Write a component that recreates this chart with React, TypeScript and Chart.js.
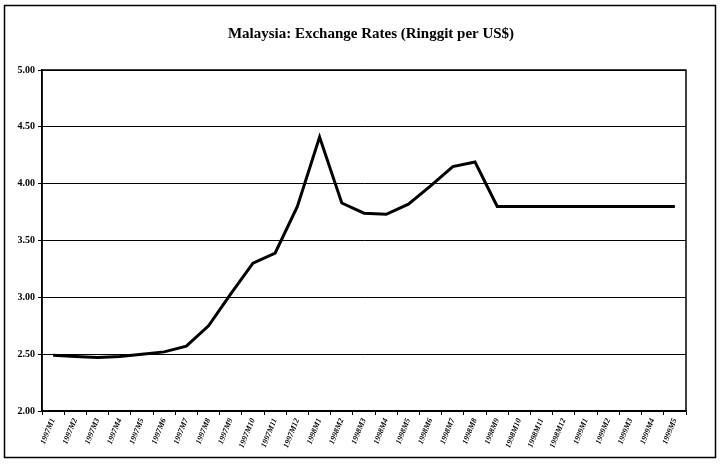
import React, { useEffect, useRef } from "react";
import { Chart, registerables } from "chart.js";

Chart.register(...registerables);

const TITLE = "Malaysia: Exchange Rates (Ringgit per US$)";

const months: string[] = [
  "1997M1", "1997M2", "1997M3", "1997M4", "1997M5", "1997M6", "1997M7", "1997M8", "1997M9", "1997M10", "1997M11", "1997M12",
  "1998M1", "1998M2", "1998M3", "1998M4", "1998M5", "1998M6", "1998M7", "1998M8", "1998M9", "1998M10", "1998M11", "1998M12",
  "1999M1", "1999M2", "1999M3", "1999M4", "1999M5",
];

const ringgitPerUSD: number[] = [
  2.49, 2.48, 2.47, 2.48, 2.50, 2.52, 2.57, 2.75, 3.03, 3.30, 3.39, 3.80,
  4.41, 3.83, 3.74, 3.73, 3.82, 3.98, 4.15, 4.19, 3.80, 3.80, 3.80, 3.80,
  3.80, 3.80, 3.80, 3.80, 3.80,
];

const Y_MIN = 2.0;
const Y_MAX = 5.0;
const Y_STEP = 0.5;

const framePlugin = {
  id: "frame",
  afterDraw(chart: any) {
    const { ctx, chartArea } = chart;
    ctx.save();
    ctx.strokeStyle = "#000";
    ctx.lineWidth = 1.5;
    ctx.strokeRect(4.5, 5.5, 711, 452);
    ctx.strokeRect(chartArea.left, chartArea.top, chartArea.right - chartArea.left, chartArea.bottom - chartArea.top);
    ctx.fillStyle = "#000";
    ctx.font = "bold 15px 'Liberation Serif', 'DejaVu Serif', serif";
    ctx.textAlign = "center";
    ctx.textBaseline = "middle";
    ctx.fillText(TITLE, 371, 34);
    ctx.restore();
  },
};

export default function App() {
  const ref = useRef<HTMLCanvasElement | null>(null);

  useEffect(() => {
    if (!ref.current) return;
    const chart = new Chart(ref.current, {
      type: "line",
      data: {
        labels: months,
        datasets: [
          {
            data: ringgitPerUSD,
            borderColor: "#000",
            borderWidth: 3,
            pointRadius: 0,
            tension: 0,
            fill: false,
          },
        ],
      },
      options: {
        animation: false,
        responsive: false,
        maintainAspectRatio: false,
        layout: { padding: { left: 8, top: 70, right: 35, bottom: 0 } },
        plugins: {
          legend: { display: false },
          title: { display: false },
          tooltip: { enabled: false },
        },
        scales: {
          x: {
            offset: true,
            afterFit: (s: any) => {
              s.height = 54;
            },
            grid: {
              offset: true,
              drawOnChartArea: false,
              drawTicks: true,
              tickLength: 4,
              color: "#000",
            },
            border: { color: "#000", width: 1.5 },
            ticks: {
              color: "#000",
              autoSkip: false,
              minRotation: 68,
              maxRotation: 68,
              padding: 2,
              font: { family: "'Liberation Serif', 'DejaVu Serif', serif", size: 8, style: "italic", weight: "bold" },
            },
          },
          y: {
            min: Y_MIN,
            max: Y_MAX,
            afterFit: (s: any) => {
              s.width = 34;
            },
            grid: {
              color: "#000",
              lineWidth: 1,
              tickLength: 4,
            },
            border: { color: "#000", width: 1.5 },
            ticks: {
              stepSize: Y_STEP,
              color: "#000",
              padding: 3,
              callback: (v: any) => Number(v).toFixed(2),
              font: { family: "'Liberation Serif', 'DejaVu Serif', serif", size: 10, weight: "bold" },
            },
          },
        },
      },
      plugins: [framePlugin],
    });
    return () => chart.destroy();
  }, []);

  return (
    <div style={{ position: "fixed", left: 0, top: 0, width: 721, height: 465, background: "#fff" }}>
      <canvas ref={ref} width={721} height={465} style={{ display: "block" }} />
    </div>
  );
}
